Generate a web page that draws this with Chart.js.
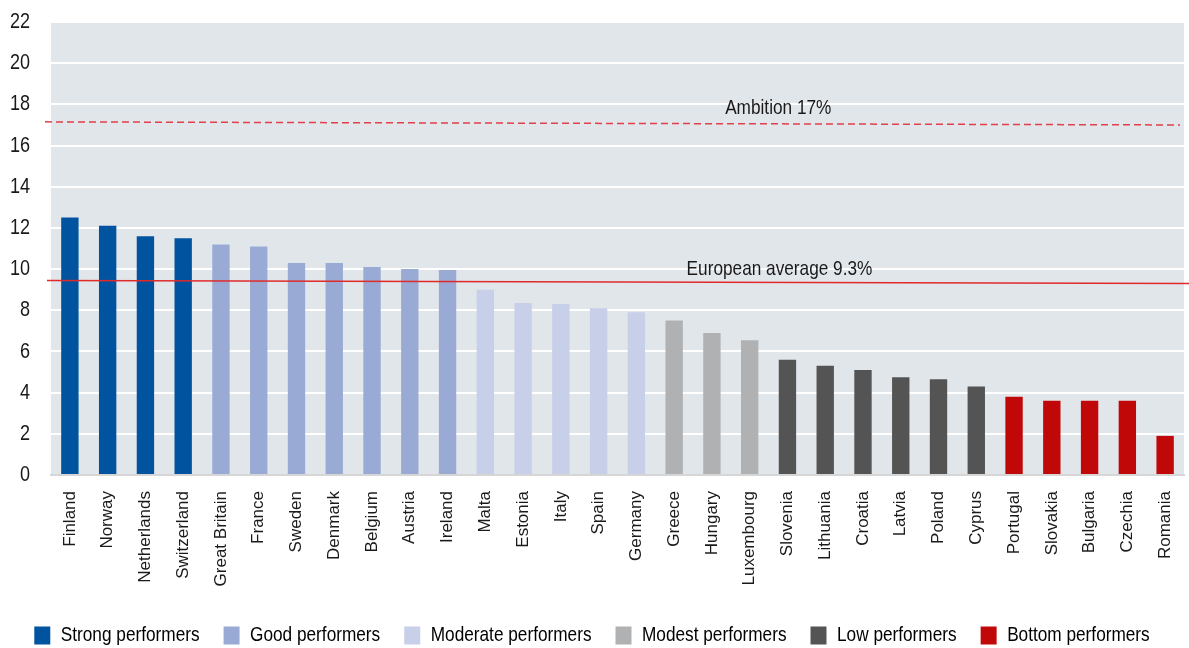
<!DOCTYPE html>
<html>
<head>
<meta charset="utf-8">
<script src="https://cdn.jsdelivr.net/npm/chart.js@4"></script>
<style>
  html, body { margin: 0; padding: 0; background: #fff; }
  #wrap { width: 1189px; height: 648px; position: relative; }
</style>
</head>
<body>
<div id="wrap"><canvas id="chart"></canvas></div>
<script>
/* ── Data ── */
const countries = ["Finland", "Norway", "Netherlands", "Switzerland", "Great Britain", "France", "Sweden",
  "Denmark", "Belgium", "Austria", "Ireland", "Malta", "Estonia", "Italy", "Spain", "Germany", "Greece",
  "Hungary", "Luxembourg", "Slovenia", "Lithuania", "Croatia", "Latvia", "Poland", "Cyprus", "Portugal",
  "Slovakia", "Bulgaria", "Czechia", "Romania"];
const shares = [12.5, 12.1, 11.6, 11.5, 11.2, 11.1, 10.3, 10.3, 10.1, 10.0, 9.95, 9.0, 8.35, 8.3, 8.1, 7.9,
  7.5, 6.9, 6.55, 5.6, 5.3, 5.1, 4.75, 4.65, 4.3, 3.8, 3.6, 3.6, 3.6, 1.9];
const groupNames = ["Strong performers", "Good performers", "Moderate performers", "Modest performers",
  "Low performers", "Bottom performers"];
const groupColors = ["#00539f", "#99abd5", "#c8cfe9", "#b0b1b3", "#545454", "#c00808"];
const groupSizes = [4, 7, 5, 3, 6, 5];
const yTicks = [0, 2, 4, 6, 8, 10, 12, 14, 16, 18, 20, 22];
const ambitionEnds = [17.15, 17.0];   // line as drawn in the source (slight tilt)
const averageEnds = [9.45, 9.3];
const ambitionLabel = "Ambition 17%";
const averageLabel = "European average 9.3%";

// no narrow font installed -> text set in this family gets squeezed horizontally (see below)
const FONT_NARROW = "'Liberation Sans Narrow', 'Liberation Sans', Arial, sans-serif";
const FONT_PLAIN = "'Liberation Sans', Arial, sans-serif";
const SQUEEZE = 0.82;

/* ── Bar colours from group sizes ── */
const barColors = [];
groupSizes.forEach((n, g) => { for (let i = 0; i < n; i++) barColors.push(groupColors[g]); });

/* ── Fake condensed type: squeeze fillText / measureText for the narrow family ── */
const canvas = document.getElementById("chart");
const ctx = canvas.getContext("2d");
const _fill = ctx.fillText.bind(ctx);
const _measure = ctx.measureText.bind(ctx);
ctx.fillText = function(text, x, y, maxWidth) {
  if (this.font.indexOf("Narrow") === -1 || text === "" || text == null) return _fill(text, x, y, maxWidth);
  const w = _measure(String(text)).width * SQUEEZE;
  _fill(text, x, y, maxWidth === undefined ? w : Math.min(w, maxWidth));
};
ctx.measureText = function(text) {
  const m = _measure(text);
  if (this.font.indexOf("Narrow") === -1) return m;
  return {
    width: m.width * SQUEEZE,
    actualBoundingBoxLeft: m.actualBoundingBoxLeft * SQUEEZE,
    actualBoundingBoxRight: m.actualBoundingBoxRight * SQUEEZE,
    actualBoundingBoxAscent: m.actualBoundingBoxAscent,
    actualBoundingBoxDescent: m.actualBoundingBoxDescent
  };
};

/* ── Plot background + reference lines ── */
const decorations = {
  id: "decorations",
  beforeDraw(chart) {
    const { ctx, chartArea: a } = chart;
    ctx.save();
    ctx.fillStyle = "#e1e6eb";
    ctx.fillRect(a.left, a.top, a.right - a.left, a.bottom - a.top);
    ctx.restore();
  },
  afterDatasetsDraw(chart) {
    const { ctx, chartArea: a, scales: { y } } = chart;
    ctx.save();
    // ambition (dashed)
    ctx.strokeStyle = "#e0404a";
    ctx.lineWidth = 1.5;
    ctx.setLineDash([7, 4]);
    ctx.beginPath();
    ctx.moveTo(a.left - 6, y.getPixelForValue(ambitionEnds[0]));
    ctx.lineTo(a.right - 4, y.getPixelForValue(ambitionEnds[1]));
    ctx.stroke();
    // european average (solid)
    ctx.setLineDash([]);
    ctx.strokeStyle = "#e02a2a";
    ctx.beginPath();
    ctx.moveTo(a.left - 4, y.getPixelForValue(averageEnds[0]));
    ctx.lineTo(chart.width, y.getPixelForValue(averageEnds[1]));
    ctx.stroke();
    // labels
    ctx.fillStyle = "#1a1a1a";
    ctx.font = "21px " + FONT_NARROW;
    ctx.textBaseline = "alphabetic";
    ctx.textAlign = "left";
    const w = a.right - a.left;
    ctx.fillText(ambitionLabel, a.left + w * 0.595, y.getPixelForValue(ambitionEnds[1]) - 11);
    ctx.fillText(averageLabel, a.left + w * 0.561, y.getPixelForValue(averageEnds[1]) - 9);
    ctx.restore();
  }
};

/* ── Chart ── */
new Chart(canvas, {
  type: "bar",
  data: {
    labels: countries,
    datasets: [{
      data: shares,
      backgroundColor: barColors,
      barPercentage: 0.46,
      categoryPercentage: 1.0,
      borderWidth: 0
    }]
  },
  options: {
    responsive: true,
    maintainAspectRatio: false,
    animation: false,
    layout: { padding: { top: 22, right: 5, left: 0, bottom: -8 } },
    plugins: {
      tooltip: { enabled: false },
      legend: {
        position: "bottom",
        labels: {
          boxWidth: 16,
          boxHeight: 18,
          padding: 24,
          color: "#1a1a1a",
          font: { family: FONT_NARROW, size: 21 },
          generateLabels: () => groupNames.map((name, i) => ({
            text: name,
            fillStyle: groupColors[i],
            strokeStyle: groupColors[i],
            lineWidth: 0,
            hidden: false,
            datasetIndex: 0
          }))
        },
        onClick: null
      }
    },
    scales: {
      x: {
        grid: { display: false, drawTicks: false },
        border: { color: "#d6d6d6", width: 2 },
        ticks: {
          color: "#1a1a1a",
          font: { family: FONT_PLAIN, size: 17 },
          maxRotation: 90,
          minRotation: 90,
          padding: 16,
          autoSkip: false
        },
        afterFit(scale) {
          scale.height = 126;
          scale.paddingLeft = 0;
          scale.paddingRight = 0;
        }
      },
      y: {
        min: 0,
        max: 22,
        afterBuildTicks(scale) { scale.ticks = yTicks.map(v => ({ value: v })); },
        grid: { color: "#ffffff", lineWidth: 2, drawTicks: false },
        border: { display: false },
        ticks: {
          color: "#1a1a1a",
          font: { family: FONT_NARROW, size: 22 },
          padding: 21
        },
        afterFit(scale) {
          scale.width = 51;
          scale.paddingTop = 0;
          scale.paddingBottom = 0;
        }
      }
    }
  },
  plugins: [decorations]
});
</script>
</body>
</html>
